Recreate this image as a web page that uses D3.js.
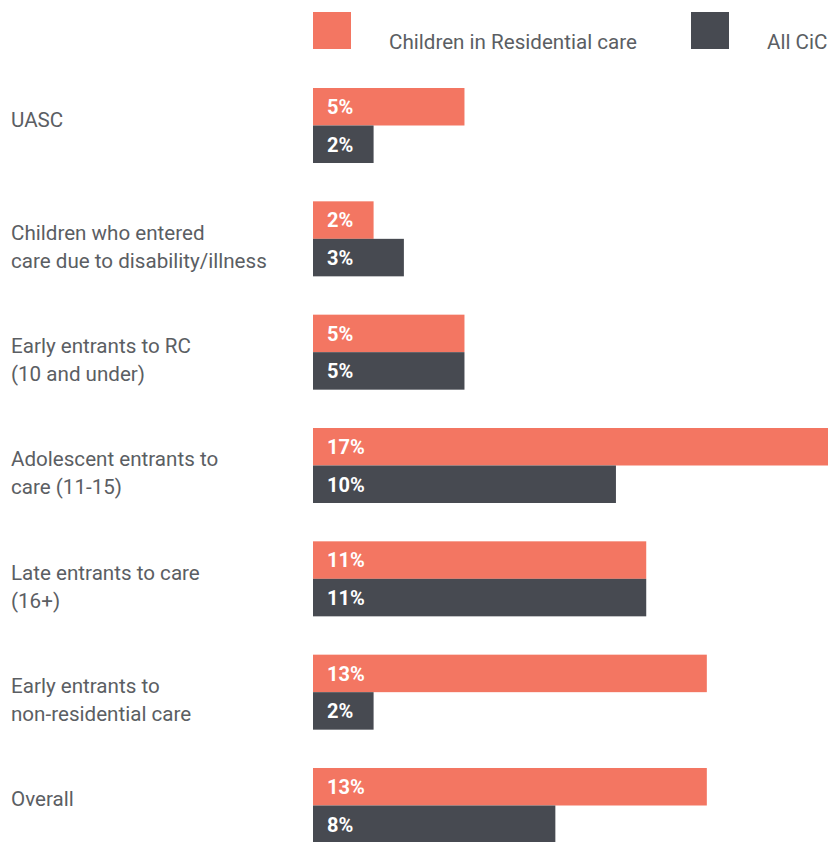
<!DOCTYPE html>
<html><head><meta charset="utf-8">
<script src="https://cdn.jsdelivr.net/npm/d3@7"></script>
<style>body{margin:0;background:#fff;} svg{display:block;}</style>
</head><body>
<script>
const categories = [
  ["UASC"],
  ["Children who entered", "care due to disability/illness"],
  ["Early entrants to RC", "(10 and under)"],
  ["Adolescent entrants to", "care (11-15)"],
  ["Late entrants to care", "(16+)"],
  ["Early entrants to", "non-residential care"],
  ["Overall"]
];
const seriesNames = ["Children in Residential care", "All CiC"];
const residential = [5, 2, 5, 17, 11, 13, 13];
const allCiC = [2, 3, 5, 10, 11, 2, 8];
const colors = ["#F37662", "#474A51"];

const W = 829, H = 842;
const svg = d3.select("body").append("svg").attr("width", W).attr("height", H);
const font = "Roboto, 'Noto Sans', sans-serif";

const idx = d3.range(categories.length);
const y = d3.scaleBand().domain(idx).range([88, 843]).paddingInner(0.3382).paddingOuter(0);
const yInner = d3.scaleBand().domain([0, 1]).range([0, y.bandwidth()]).padding(0);
const x = d3.scaleLinear().domain([0, 17]).range([313, 828]);

const data = idx.map(i => ({i, vals: [residential[i], allCiC[i]]}));

const g = svg.selectAll("g.grp").data(data).join("g").attr("class", "grp")
  .attr("transform", d => `translate(0,${y(d.i)})`);

g.selectAll("rect").data(d => d.vals.map((v, s) => ({v, s}))).join("rect")
  .attr("x", x(0)).attr("y", d => yInner(d.s))
  .attr("width", d => x(d.v) - x(0)).attr("height", yInner.bandwidth())
  .attr("fill", d => colors[d.s]);

g.selectAll("text.val").data(d => d.vals.map((v, s) => ({v, s}))).join("text")
  .attr("class", "val")
  .attr("x", x(0) + 14).attr("y", d => yInner(d.s) + yInner.bandwidth() / 2)
  .attr("dy", "0.37em")
  .attr("fill", "#fff").attr("font-family", font).attr("font-weight", 700).attr("font-size", 20)
  .text(d => d.v + "%");

g.append("text").attr("x", 11).attr("y", yInner.bandwidth() + 1)
  .attr("fill", "#5b5e63").attr("font-family", font).attr("font-weight", 400).attr("font-size", 20.6)
  .selectAll("tspan").data(d => categories[d.i]).join("tspan")
  .attr("x", 11).attr("dy", (d, k) => k === 0 ? 0 : 28).text(d => d);

// legend
const legX = [313, 691];
const leg = svg.selectAll("g.leg").data(seriesNames).join("g").attr("class", "leg")
  .attr("transform", (d, k) => `translate(${legX[k]},12)`);
leg.append("rect").attr("width", 38).attr("height", 37).attr("fill", (d, k) => colors[k]);
leg.append("text").attr("x", 76).attr("y", 37)
  .attr("fill", "#5b5e63").attr("font-family", font).attr("font-weight", 400).attr("font-size", 20.6).text(d => d);
</script>
</body></html>
